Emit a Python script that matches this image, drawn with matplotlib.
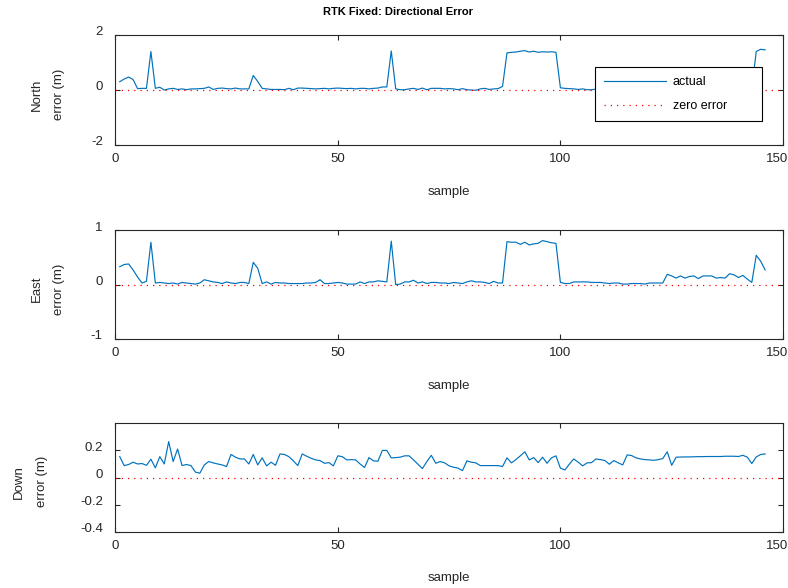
import numpy as np
import matplotlib
matplotlib.use('Agg')
import matplotlib.pyplot as plt
from matplotlib.transforms import ScaledTranslation

plt.rcParams['font.family'] = ['Liberation Sans', 'DejaVu Sans']

# RTK fixed solution: error per axis for every sample (metres)
north_err = [
    0.30, 0.40, 0.47, 0.38, 0.05, 0.06, 0.06, 1.40, 0.06, 0.10,
    0.00, 0.04, 0.06, 0.02, 0.04, 0.01, 0.04, 0.04, 0.05, 0.06,
    0.11, 0.02, 0.06, 0.07, 0.05, 0.04, 0.07, 0.04, 0.04, 0.04,
    0.53, 0.31, 0.06, 0.04, 0.02, 0.02, 0.02, 0.01, 0.06, 0.01,
    0.07, 0.07, 0.06, 0.05, 0.04, 0.05, 0.06, 0.04, 0.06, 0.07,
    0.06, 0.05, 0.06, 0.04, 0.06, 0.06, 0.04, 0.06, 0.07, 0.11,
    0.11, 1.42, 0.04, 0.01, 0.01, 0.04, 0.06, 0.02, 0.07, 0.01,
    0.06, 0.06, 0.06, 0.04, 0.05, 0.04, 0.01, 0.05, 0.01, 0.00,
    -0.01, 0.04, 0.06, 0.02, 0.04, 0.05, 0.13, 1.35, 1.37, 1.38,
    1.41, 1.43, 1.38, 1.41, 1.37, 1.39, 1.38, 1.39, 1.37, 0.08,
    0.06, 0.05, 0.04, 0.02, 0.04, 0.01, 0.01, 0.03, 0.04, 0.03,
    0.02, 0.04, 0.03, 0.02, 0.03, 0.04, 0.03, 0.02, 0.03, 0.04,
    0.03, 0.04, 0.05, 0.06, 0.05, 0.04, 0.05, 0.04, 0.06, 0.05,
    0.04, 0.05, 0.05, 0.04, 0.05, 0.06, 0.05, 0.05, 0.04, 0.05,
    0.04, 0.03, 0.04, 1.40, 1.48, 1.46,
]
east_err = [
    0.33, 0.37, 0.38, 0.27, 0.14, 0.03, 0.06, 0.78, 0.03, 0.04,
    0.03, 0.02, 0.03, 0.01, 0.04, 0.03, 0.02, 0.01, 0.03, 0.09,
    0.07, 0.05, 0.04, 0.02, 0.05, 0.03, 0.02, 0.04, 0.04, 0.02,
    0.41, 0.30, 0.02, 0.05, 0.01, 0.04, 0.03, 0.03, 0.02, 0.02,
    0.02, 0.02, 0.03, 0.03, 0.04, 0.09, 0.02, 0.02, 0.03, 0.04,
    0.03, 0.01, 0.01, 0.01, 0.05, 0.02, 0.05, 0.05, 0.07, 0.06,
    0.05, 0.80, 0.00, 0.01, 0.05, 0.05, 0.08, 0.03, 0.05, 0.02,
    0.04, 0.04, 0.03, 0.03, 0.02, 0.04, 0.03, 0.02, 0.05, 0.07,
    0.05, 0.05, 0.04, 0.02, 0.06, 0.03, 0.03, 0.79, 0.78, 0.78,
    0.74, 0.78, 0.73, 0.75, 0.76, 0.81, 0.79, 0.77, 0.76, 0.04,
    0.02, 0.02, 0.05, 0.05, 0.05, 0.05, 0.04, 0.04, 0.04, 0.03,
    0.02, 0.03, 0.03, 0.01, 0.01, 0.02, 0.02, 0.02, 0.01, 0.03,
    0.03, 0.03, 0.03, 0.19, 0.16, 0.12, 0.16, 0.12, 0.15, 0.16,
    0.11, 0.16, 0.16, 0.16, 0.12, 0.13, 0.12, 0.20, 0.18, 0.13,
    0.17, 0.10, 0.04, 0.54, 0.43, 0.27,
]
down_err = [
    0.154, 0.088, 0.096, 0.113, 0.100, 0.103, 0.090, 0.135, 0.071, 0.154,
    0.100, 0.265, 0.118, 0.210, 0.088, 0.096, 0.088, 0.040, 0.032, 0.093,
    0.118, 0.108, 0.100, 0.093, 0.081, 0.170, 0.150, 0.137, 0.137, 0.100,
    0.170, 0.093, 0.145, 0.086, 0.113, 0.090, 0.174, 0.170, 0.154, 0.123,
    0.088, 0.174, 0.157, 0.142, 0.130, 0.125, 0.105, 0.110, 0.086, 0.160,
    0.154, 0.130, 0.132, 0.130, 0.100, 0.074, 0.147, 0.123, 0.120, 0.200,
    0.200, 0.145, 0.147, 0.150, 0.160, 0.160, 0.130, 0.098, 0.066, 0.118,
    0.164, 0.105, 0.118, 0.108, 0.086, 0.076, 0.069, 0.051, 0.123, 0.113,
    0.108, 0.088, 0.088, 0.088, 0.088, 0.088, 0.081, 0.145, 0.108, 0.132,
    0.160, 0.190, 0.130, 0.147, 0.110, 0.150, 0.105, 0.145, 0.160, 0.069,
    0.056, 0.098, 0.137, 0.113, 0.086, 0.108, 0.110, 0.137, 0.132, 0.125,
    0.098, 0.125, 0.108, 0.093, 0.167, 0.162, 0.145, 0.137, 0.132, 0.130,
    0.127, 0.132, 0.140, 0.190, 0.090, 0.150, 0.151, 0.152, 0.152, 0.153,
    0.154, 0.154, 0.155, 0.155, 0.155, 0.155, 0.157, 0.157, 0.157, 0.155,
    0.164, 0.150, 0.103, 0.152, 0.170, 0.174,
]
sample = np.arange(1, len(north_err) + 1)

panels = [
    ('North\nerror (m)', north_err, (-2, 2), [-2, 0, 2]),
    ('East\nerror (m)', east_err, (-1, 1), [-1, 0, 1]),
    ('Down\nerror (m)', down_err, (-0.4, 0.4), [-0.4, -0.2, 0, 0.2]),
]
# axes boxes in figure fractions [left, bottom, width, height]
boxes = [
    [0.1463, 0.7534, 0.8473, 0.1871],
    [0.1463, 0.4235, 0.8473, 0.1849],
    [0.1463, 0.0957, 0.8473, 0.1844],
]
ylab_x = [-0.101, -0.101, -0.127]

line_blue = '#0072BD'
axis_col = '#262626'

fig = plt.figure(figsize=(7.88, 5.88), dpi=100)

axes = []
for i, (ylab, vals, ylim, yt) in enumerate(panels):
    ax = fig.add_axes(boxes[i])
    ax.plot(sample, vals, color=line_blue, lw=0.85, label='actual')
    ax.plot([0, 150], [0, 0], color='red', ls=(0, (1, 4)), lw=0.9, label='zero error')
    ax.set_xlim(0, 150)
    ax.set_ylim(*ylim)
    ax.set_xticks([0, 50, 100, 150])
    ax.set_yticks(yt)
    ax.set_yticklabels([('%g' % v) for v in yt])
    ax.tick_params(direction='in', length=3.5, width=0.8, color=axis_col,
                   labelcolor=axis_col, labelsize=9.5, top=True, right=True)
    ax.tick_params(axis='x', pad=6)
    ax.tick_params(axis='y', pad=9)
    for sp in ax.spines.values():
        sp.set_color(axis_col)
        sp.set_linewidth(0.8)
    # nudge y tick labels up a little
    for lab in ax.get_yticklabels():
        lab.set_transform(lab.get_transform() + ScaledTranslation(0, 3 / 72, fig.dpi_scale_trans))
    # keep the last x tick label inside the figure
    xlabs = ax.get_xticklabels()
    xlabs[-1].set_transform(xlabs[-1].get_transform() + ScaledTranslation(-6 / 100, 0, fig.dpi_scale_trans))
    ax.set_xlabel('sample', fontsize=9.5, color=axis_col, va='center')
    ax.xaxis.set_label_coords(0.5, -0.428)
    ax.set_ylabel(ylab, fontsize=9.5, color=axis_col, linespacing=2.2, va='center')
    ax.yaxis.set_label_coords(ylab_x[i], 0.46)
    axes.append(ax)

leg = axes[0].legend(loc='upper left', bbox_to_anchor=(0.7185, 0.712, 0.25, 0),
                     mode='expand', borderaxespad=0, handlelength=4.9,
                     handletextpad=0.55, labelspacing=0.95, borderpad=0.75,
                     fancybox=False, framealpha=1, edgecolor='black', fontsize=9)
leg.get_frame().set_linewidth(0.8)

fig.suptitle('RTK Fixed: Directional Error', fontsize=8, fontweight='bold',
             x=0.505, y=0.979, va='center', color='black')

fig.savefig('out.png', dpi=100)
